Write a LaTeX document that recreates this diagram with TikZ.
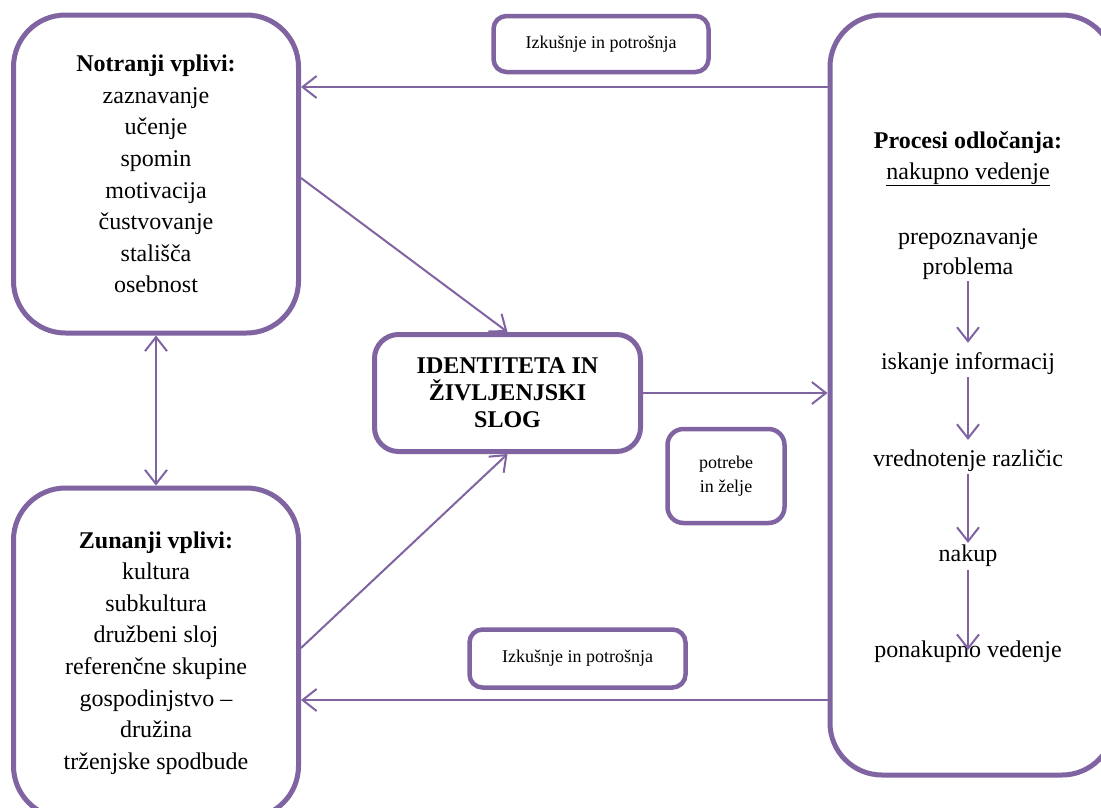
\documentclass[tikz,border=0pt]{standalone}
\usepackage{fontspec}
\setmainfont{Liberation Serif}
\usetikzlibrary{arrows.meta}
\definecolor{vio}{HTML}{8064A2}
\begin{document}
\begin{tikzpicture}[x=1pt,y=-1pt,
  >={Straight Barb[length=14pt,width=22pt]},
  bigbox/.style={draw=vio, line width=5pt, rounded corners=52pt, inner sep=0pt, align=center, font=\fontsize{24}{31.6}\selectfont},
  midbox/.style={draw=vio, line width=5pt, rounded corners=24pt, inner sep=0pt, align=center, font=\fontsize{24}{27}\selectfont\bfseries},
  smallbox/.style={draw=vio, line width=4.5pt, rounded corners=13pt, inner sep=0pt, align=center, font=\fontsize{18}{24}\selectfont},
  stext/.style={inner sep=0pt, align=center, font=\fontsize{24}{30.5}\selectfont},
  conn/.style={draw=vio, line width=2pt, ->},
]
\clip (0,0) rectangle (1101,807);
\fill[white] (0,0) rectangle (1101,807);
% big boxes
\node[bigbox, minimum width=285pt, minimum height=318pt] (ltop) at (156,174)
  {\textbf{Notranji vplivi:}\\zaznavanje\\učenje\\spomin\\motivacija\\čustvovanje\\stališča\\osebnost};
\node[bigbox, minimum width=285pt, minimum height=330pt] (lbot) at (156,653)
  {\textbf{Zunanji vplivi:}\\kultura\\subkultura\\družbeni sloj\\referenčne skupine\\gospodinjstvo –\\družina\\trženjske spodbude};
\node[bigbox, minimum width=284pt, minimum height=760pt] (rbox) at (972,395) {};
% centre and small boxes
\node[midbox, minimum width=266pt, minimum height=117pt] (cbox) at (507.5,393)
  {IDENTITETA IN\\ŽIVLJENJSKI\\SLOG};
\node[smallbox, minimum width=215pt, minimum height=56pt] (top) at (601,44) {Izkušnje in potrošnja};
\node[smallbox, minimum width=216pt, minimum height=58pt] (bot) at (577.5,658.5) {Izkušnje in potrošnja};
\node[smallbox, minimum width=117pt, minimum height=94pt, rounded corners=16pt] (pot) at (726,476) {potrebe\\in želje};
% process steps
\node[stext] (s0) at (968,159) {\textbf{Procesi odločanja:}\\\underline{nakupno vedenje}};
\node[stext] (s1) at (968,254) {prepoznavanje\\problema};
\node[stext] (s2) at (968,364) {iskanje informacij};
\node[stext] (s3) at (968,461) {vrednotenje različic};
\node[stext] (s4) at (968,556) {nakup};
\node[stext] (s5) at (968,652) {ponakupno vedenje};
% connectors
\draw[conn] (rbox.west |- 0,87) -- (ltop.east |- 0,87);
\draw[conn] (rbox.west |- 0,700) -- (lbot.east |- 0,700);
\draw[conn] (cbox.east) -- (rbox.west |- cbox.east);
\draw[conn] (ltop.east |- 0,178) -- (cbox.north);
\draw[conn] (lbot.east |- 0,648) -- (cbox.south);
\draw[conn, <->] (ltop.south) -- (lbot.north);
\draw[conn] ([yshift=-1pt]s1.south) -- ([yshift=10pt]s2.north);
\draw[conn] ([yshift=-2pt]s2.south) -- ([yshift=10pt]s3.north);
\draw[conn] ([yshift=-2pt]s3.south) -- ([yshift=2pt]s4.north);
\draw[conn] ([yshift=-3pt]s4.south) -- ([yshift=2pt]s5.center);
\end{tikzpicture}
\end{document}
